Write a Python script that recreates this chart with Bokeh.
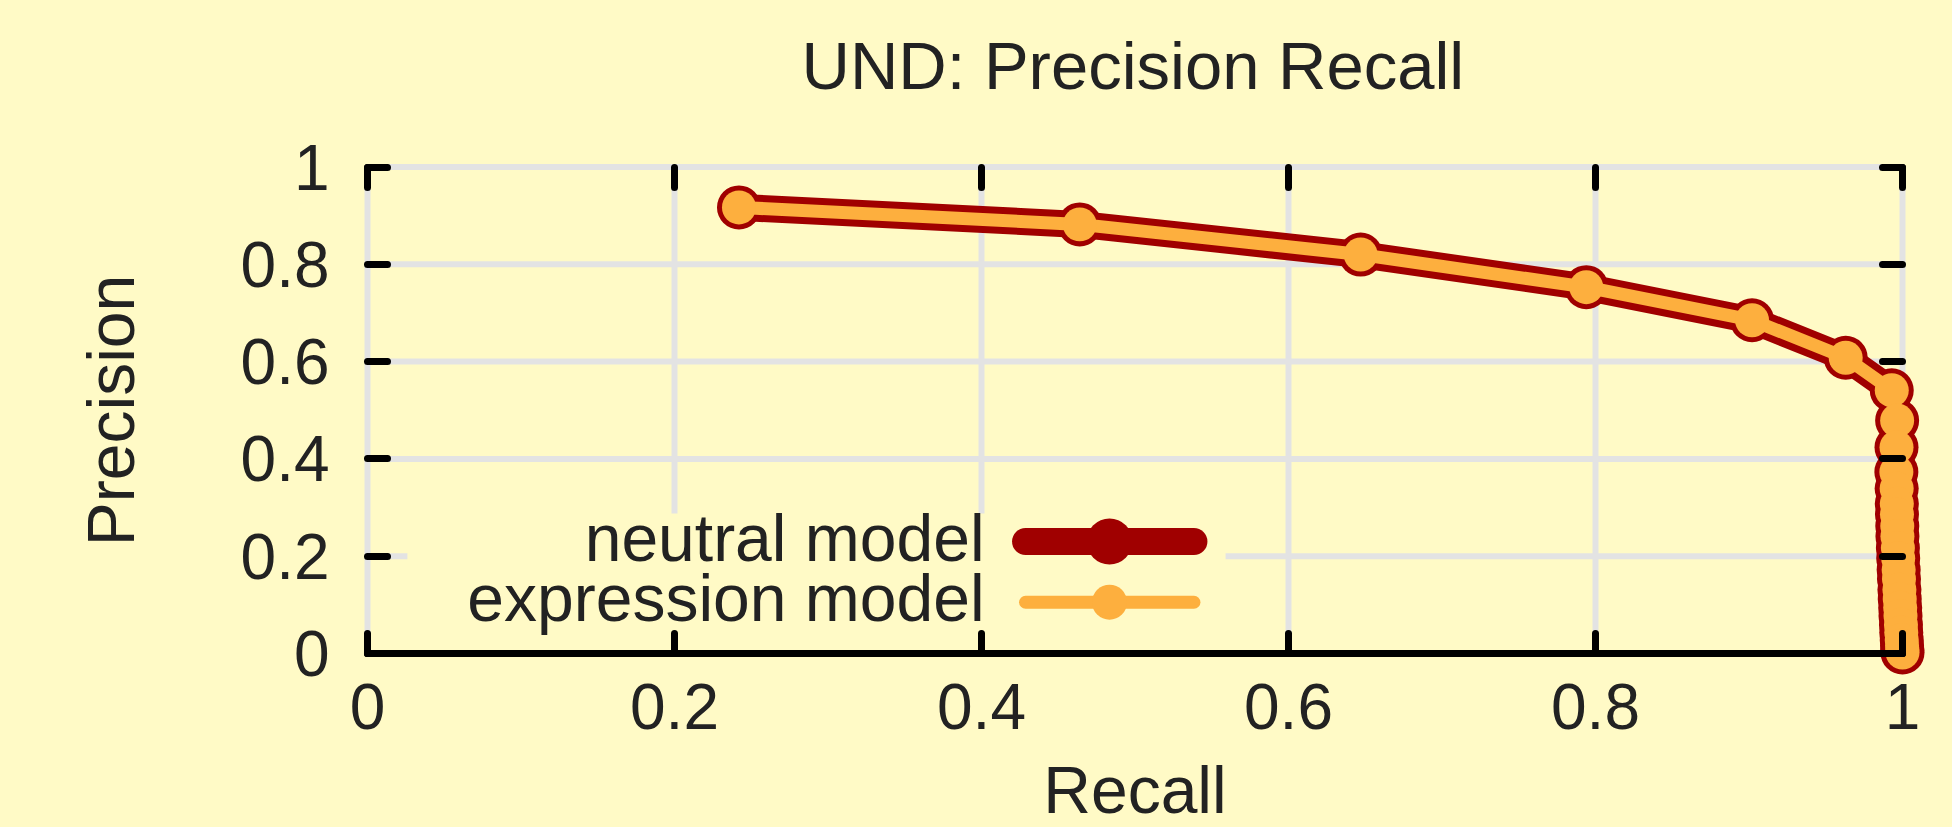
from bokeh.plotting import figure
from bokeh.models import LinearAxis, FixedTicker, Range1d, Grid
from bokeh.core.properties import value
from bokeh.embed import file_html
from bokeh.resources import INLINE

# ---------------- data ----------------
title_text = "UND: Precision Recall"
x_label = "Recall"
y_label = "Precision"
series_names = ["neutral model", "expression model"]

x_ticks = [0, 0.2, 0.4, 0.6, 0.8, 1]
x_tick_labels = ["0", "0.2", "0.4", "0.6", "0.8", "1"]
y_ticks = [0, 0.2, 0.4, 0.6, 0.8, 1]
y_tick_labels = ["0", "0.2", "0.4", "0.6", "0.8", "1"]

neutral_recall = [0.242, 0.464, 0.647, 0.794, 0.902, 0.963, 0.993,
                  0.9965, 0.9961, 0.996, 0.9962, 0.9963, 0.9964, 0.9966, 0.9967, 0.997, 0.9972,
                  0.9975, 0.9977, 0.998, 0.9982, 0.9985, 0.9987, 0.999, 0.9992, 0.9995, 0.9997,
                  0.9999, 1.0]
neutral_precision = [0.917, 0.882, 0.820, 0.753, 0.685, 0.608, 0.541,
                     0.479, 0.424, 0.373, 0.339, 0.308, 0.286, 0.262, 0.241, 0.217, 0.196,
                     0.172, 0.153, 0.131, 0.112, 0.094, 0.077, 0.059, 0.043, 0.028, 0.016,
                     0.007, 0.002]
expression_recall = [0.242, 0.464, 0.647, 0.794, 0.902, 0.963, 0.993,
                     0.9965, 0.9961, 0.996, 0.9962, 0.9963, 0.9964, 0.9966, 0.9967, 0.997, 0.9972,
                     0.9975, 0.9977, 0.998, 0.9982, 0.9985, 0.9987, 0.999, 0.9992, 0.9995, 0.9997,
                     0.9999, 1.0]
expression_precision = [0.917, 0.882, 0.820, 0.753, 0.685, 0.608, 0.541,
                        0.479, 0.424, 0.373, 0.339, 0.308, 0.286, 0.262, 0.241, 0.217, 0.196,
                        0.172, 0.153, 0.131, 0.112, 0.094, 0.077, 0.059, 0.043, 0.028, 0.016,
                        0.007, 0.002]

# ---------------- style ----------------
BG = "#fffac6"
GRID = "#e3e3e3"
RED = "#a00000"
ORANGE = "#fdaf3e"
TEXT = "#222222"
FONT = "Liberation Sans"

W, H = 1952, 827
# where data 0..1 sits on the canvas (pixels)
X0_PX, X1_PX = 367.0, 1902.0
Y1_PX, Y0_PX = 166.5, 653.0
# frame covers everything below the title so fixed axes' labels are not clipped
FRAME_L, FRAME_R, FRAME_T, FRAME_B = 0, W, 107, H
ux = X1_PX - X0_PX
uy = Y0_PX - Y1_PX

p = figure(
    width=W, height=H,
    x_range=Range1d((FRAME_L - X0_PX) / ux, (FRAME_R - X0_PX) / ux),
    y_range=Range1d((Y0_PX - FRAME_B) / uy, (Y0_PX - FRAME_T) / uy),
    output_backend="svg", toolbar_location=None,
    x_axis_location=None, y_axis_location=None,
    min_border_left=0, min_border_right=0,
    min_border_top=FRAME_T, min_border_bottom=0,
    background_fill_color=BG, border_fill_color=BG,
    outline_line_color=None,
)
for r in list(p.center):
    if isinstance(r, Grid):
        r.visible = False

TITLE_SIZE = 67
p.title.text = title_text
p.title.align = "left"
p.title.offset = 801
p.title.text_font = FONT
p.title.text_font_size = "%dpx" % TITLE_SIZE
p.title.text_font_style = "normal"
p.title.text_color = TEXT

xmin, xmax = x_ticks[0], x_ticks[-1]
ymin, ymax = y_ticks[0], y_ticks[-1]

# grid lines
p.segment(x0=x_ticks, y0=[ymin] * len(x_ticks), x1=x_ticks, y1=[ymax] * len(x_ticks),
          line_color=GRID, line_width=6)
p.segment(x0=[xmin] * len(y_ticks), y0=y_ticks, x1=[xmax] * len(y_ticks), y1=y_ticks,
          line_color=GRID, line_width=6)

# legend box (opaque, hides grid)
LEG_BOX = dict(left=0.026, right=0.559, bottom=0.02, top=0.288)
p.quad(left=[LEG_BOX["left"]], right=[LEG_BOX["right"]], bottom=[LEG_BOX["bottom"]],
       top=[LEG_BOX["top"]], fill_color=BG, line_color=None)

styles = [
    dict(color=RED, lw=27, size=44, leg_lw=27, leg_size=46),
    dict(color=ORANGE, lw=13, size=34, leg_lw=13, leg_size=35),
]
series = [(neutral_recall, neutral_precision), (expression_recall, expression_precision)]

for (xs, ys), st in zip(series, styles):
    p.line(xs, ys, line_color=st["color"], line_width=st["lw"], line_join="round", line_cap="round")
    p.scatter(xs, ys, size=st["size"], fill_color=st["color"], line_color=None)

# legend entries
LEG_TEXT_X = 0.402
LEG_LINE = (0.4287, 0.5384)
LEG_MARK_X = 0.4834
LEG_ROW_MID = [0.2302, 0.1054]
LEG_ROW_BASE = [0.238, 0.114]
for name, st, ym, yb in zip(series_names, styles, LEG_ROW_MID, LEG_ROW_BASE):
    p.text(x=[LEG_TEXT_X], y=[yb], text=[name], text_align="right", text_baseline="alphabetic",
           text_font=value(FONT), text_font_size="66px", text_color=TEXT)
    p.line(list(LEG_LINE), [ym, ym], line_color=st["color"], line_width=st["leg_lw"], line_cap="round")
    p.scatter([LEG_MARK_X], [ym], size=st["leg_size"], fill_color=st["color"], line_color=None)


def style_axis(ax):
    ax.major_tick_in = 20
    ax.major_tick_out = 0
    ax.major_tick_line_width = 7
    ax.major_tick_line_color = "black"
    ax.major_tick_line_cap = "round"
    ax.minor_tick_line_color = None
    ax.major_label_text_font = FONT
    ax.major_label_text_font_size = "64px"
    ax.major_label_text_color = TEXT
    ax.axis_label_text_font = FONT
    ax.axis_label_text_font_size = "66px"
    ax.axis_label_text_font_style = "normal"
    ax.axis_label_text_color = TEXT


xb = LinearAxis(fixed_location=ymin, bounds=(xmin, xmax), ticker=FixedTicker(ticks=x_ticks),
                major_label_overrides=dict(zip(x_ticks, x_tick_labels)), axis_label=x_label)
style_axis(xb)
xb.axis_line_width = 7
xb.axis_line_color = "black"
xb.axis_line_cap = "round"
xb.major_label_standoff = 30
xb.axis_label_standoff = 21
p.add_layout(xb, "below")

yl = LinearAxis(fixed_location=xmin, bounds=(ymin, ymax), ticker=FixedTicker(ticks=y_ticks),
                major_label_overrides=dict(zip(y_ticks, y_tick_labels)), axis_label=y_label)
style_axis(yl)
yl.axis_line_color = None
yl.major_label_standoff = 38
yl.axis_label_standoff = 90
p.add_layout(yl, "left")

# mirrored ticks (no labels) on top and right
xt = LinearAxis(fixed_location=ymax, bounds=(xmin, xmax), ticker=FixedTicker(ticks=x_ticks),
                major_label_overrides={t: "" for t in x_ticks})
style_axis(xt)
xt.axis_line_color = None
p.add_layout(xt, "above")

yr = LinearAxis(fixed_location=xmax, bounds=(ymin, ymax), ticker=FixedTicker(ticks=y_ticks),
                major_label_overrides={t: "" for t in y_ticks})
style_axis(yr)
yr.axis_line_color = None
p.add_layout(yr, "right")

html = file_html(p, INLINE, title=title_text)
html = html.replace("<body>", '<body style="background-color:%s;">' % BG)
open("out.html", "w").write(html)
